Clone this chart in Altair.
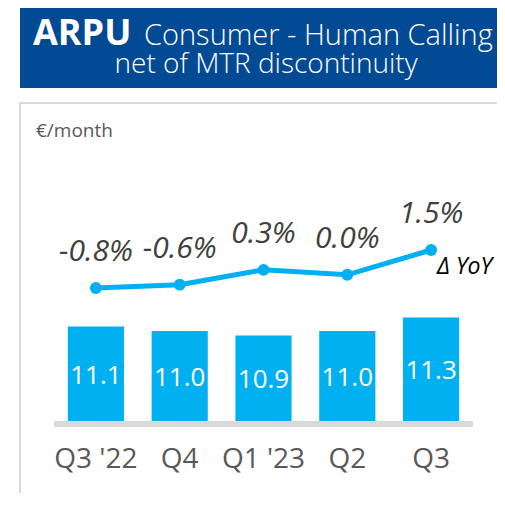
import altair as alt
import pandas as pd

quarters = ["Q3 '22", "Q4", "Q1 '23", "Q2", "Q3"]
arpu = [11.1, 11.0, 10.9, 11.0, 11.3]
yoy = [-0.8, -0.6, 0.3, 0.0, 1.5]
yoy_labels = ["-0.8%", "-0.6%", "0.3%", "0.0%", "1.5%"]
arpu_labels = ["11.1", "11.0", "10.9", "11.0", "11.3"]

df = pd.DataFrame({"q": quarters, "arpu": arpu, "yoy": yoy,
                   "yoy_label": yoy_labels, "arpu_label": arpu_labels})
one = pd.DataFrame({"k": [0]})

W, H = 489, 485
FONT = "Open Sans"
CYAN = "#00b0f0"
NAVY = "#034a94"
BORDER = "#d9d9d9"
BASE = 9.0

xenc = alt.X("q:N", sort=quarters, axis=None,
             scale=alt.Scale(range=[46, 465], paddingInner=0.33, paddingOuter=0.165))
ybar_scale = alt.Scale(domain=[BASE, 12], range=[413, 278], zero=False)
yline_scale = alt.Scale(domain=[-0.8, 1.5], range=[280, 242], zero=False)

base = alt.Chart(df)
deco = alt.Chart(one)

title_box = deco.mark_rect(fill=NAVY).encode(
    x=alt.value(12), x2=alt.value(W), y=alt.value(-10), y2=alt.value(80))
t1 = deco.mark_text(text="ARPU", align="left", baseline="alphabetic", font=FONT,
                    fontSize=36, fontWeight="bold", color="white").encode(
    x=alt.value(25), y=alt.value(37))
t2 = deco.mark_text(text="Consumer - Human Calling", align="left", baseline="alphabetic",
                    font=FONT, fontSize=29, fontWeight=300, color="white").encode(
    x=alt.value(136), y=alt.value(37))
t3 = deco.mark_text(text="net of MTR discontinuity", align="center", baseline="alphabetic",
                    font=FONT, fontSize=28, fontWeight=300, color="white").encode(
    x=alt.value(258), y=alt.value(65))

panel_left = deco.mark_rect(fill=BORDER).encode(
    x=alt.value(11), x2=alt.value(13), y=alt.value(94), y2=alt.value(H))
panel_top = deco.mark_rect(fill=BORDER).encode(
    x=alt.value(11), x2=alt.value(W), y=alt.value(94), y2=alt.value(96))
unit = deco.mark_text(text="€/month", align="left", baseline="middle", font=FONT,
                      fontSize=19, color="#595959").encode(x=alt.value(28), y=alt.value(123))
baseline_band = deco.mark_rect(fill=BORDER).encode(
    x=alt.value(46), x2=alt.value(465), y=alt.value(413), y2=alt.value(419))

bars = base.mark_bar(color=CYAN).encode(
    x=xenc, y=alt.Y("arpu:Q", axis=None, scale=ybar_scale), y2=alt.datum(BASE))
bar_text = base.transform_calculate(mid=f"(datum.arpu + {BASE}) / 2").mark_text(
    font=FONT, fontSize=26, color="white", baseline="middle", dy=2).encode(
    x=xenc, y=alt.Y("mid:Q", axis=None, scale=ybar_scale), text="arpu_label:N")
bar_layer = alt.layer(bars, bar_text)

line = base.mark_line(color=CYAN, strokeWidth=5).encode(
    x=xenc, y=alt.Y("yoy:Q", axis=None, scale=yline_scale))
pts = base.mark_point(color=CYAN, filled=True, opacity=1, size=140).encode(
    x=xenc, y=alt.Y("yoy:Q", axis=None, scale=yline_scale))
pct = base.mark_text(font=FONT, fontSize=30, fontStyle="italic", color="#404040",
                     baseline="middle", dy=-36).encode(
    x=xenc, y=alt.Y("yoy:Q", axis=None, scale=yline_scale), text="yoy_label:N")
delta = base.transform_filter(alt.datum.q == "Q3").mark_text(
    text="Δ YoY", font=FONT, fontSize=23, fontStyle="italic", color="black",
    align="left", baseline="middle", dx=6, dy=17).encode(
    x=xenc, y=alt.Y("yoy:Q", axis=None, scale=yline_scale))
line_layer = alt.layer(line, pts, pct, delta)

xlab = base.mark_text(font=FONT, fontSize=28, color="#595959", baseline="middle").encode(
    x=xenc, y=alt.value(452), text="q:N")

chart = alt.layer(
    title_box, t1, t2, t3, panel_left, panel_top, unit, baseline_band,
    bar_layer, line_layer, xlab
).resolve_scale(y="independent").properties(
    width=W, height=H, autosize=alt.AutoSizeParams(type="none"), padding=0,
    background="white"
).configure_view(strokeWidth=0, stroke="transparent")

chart.save("out.html", embed_options={"renderer": "svg", "actions": False})
